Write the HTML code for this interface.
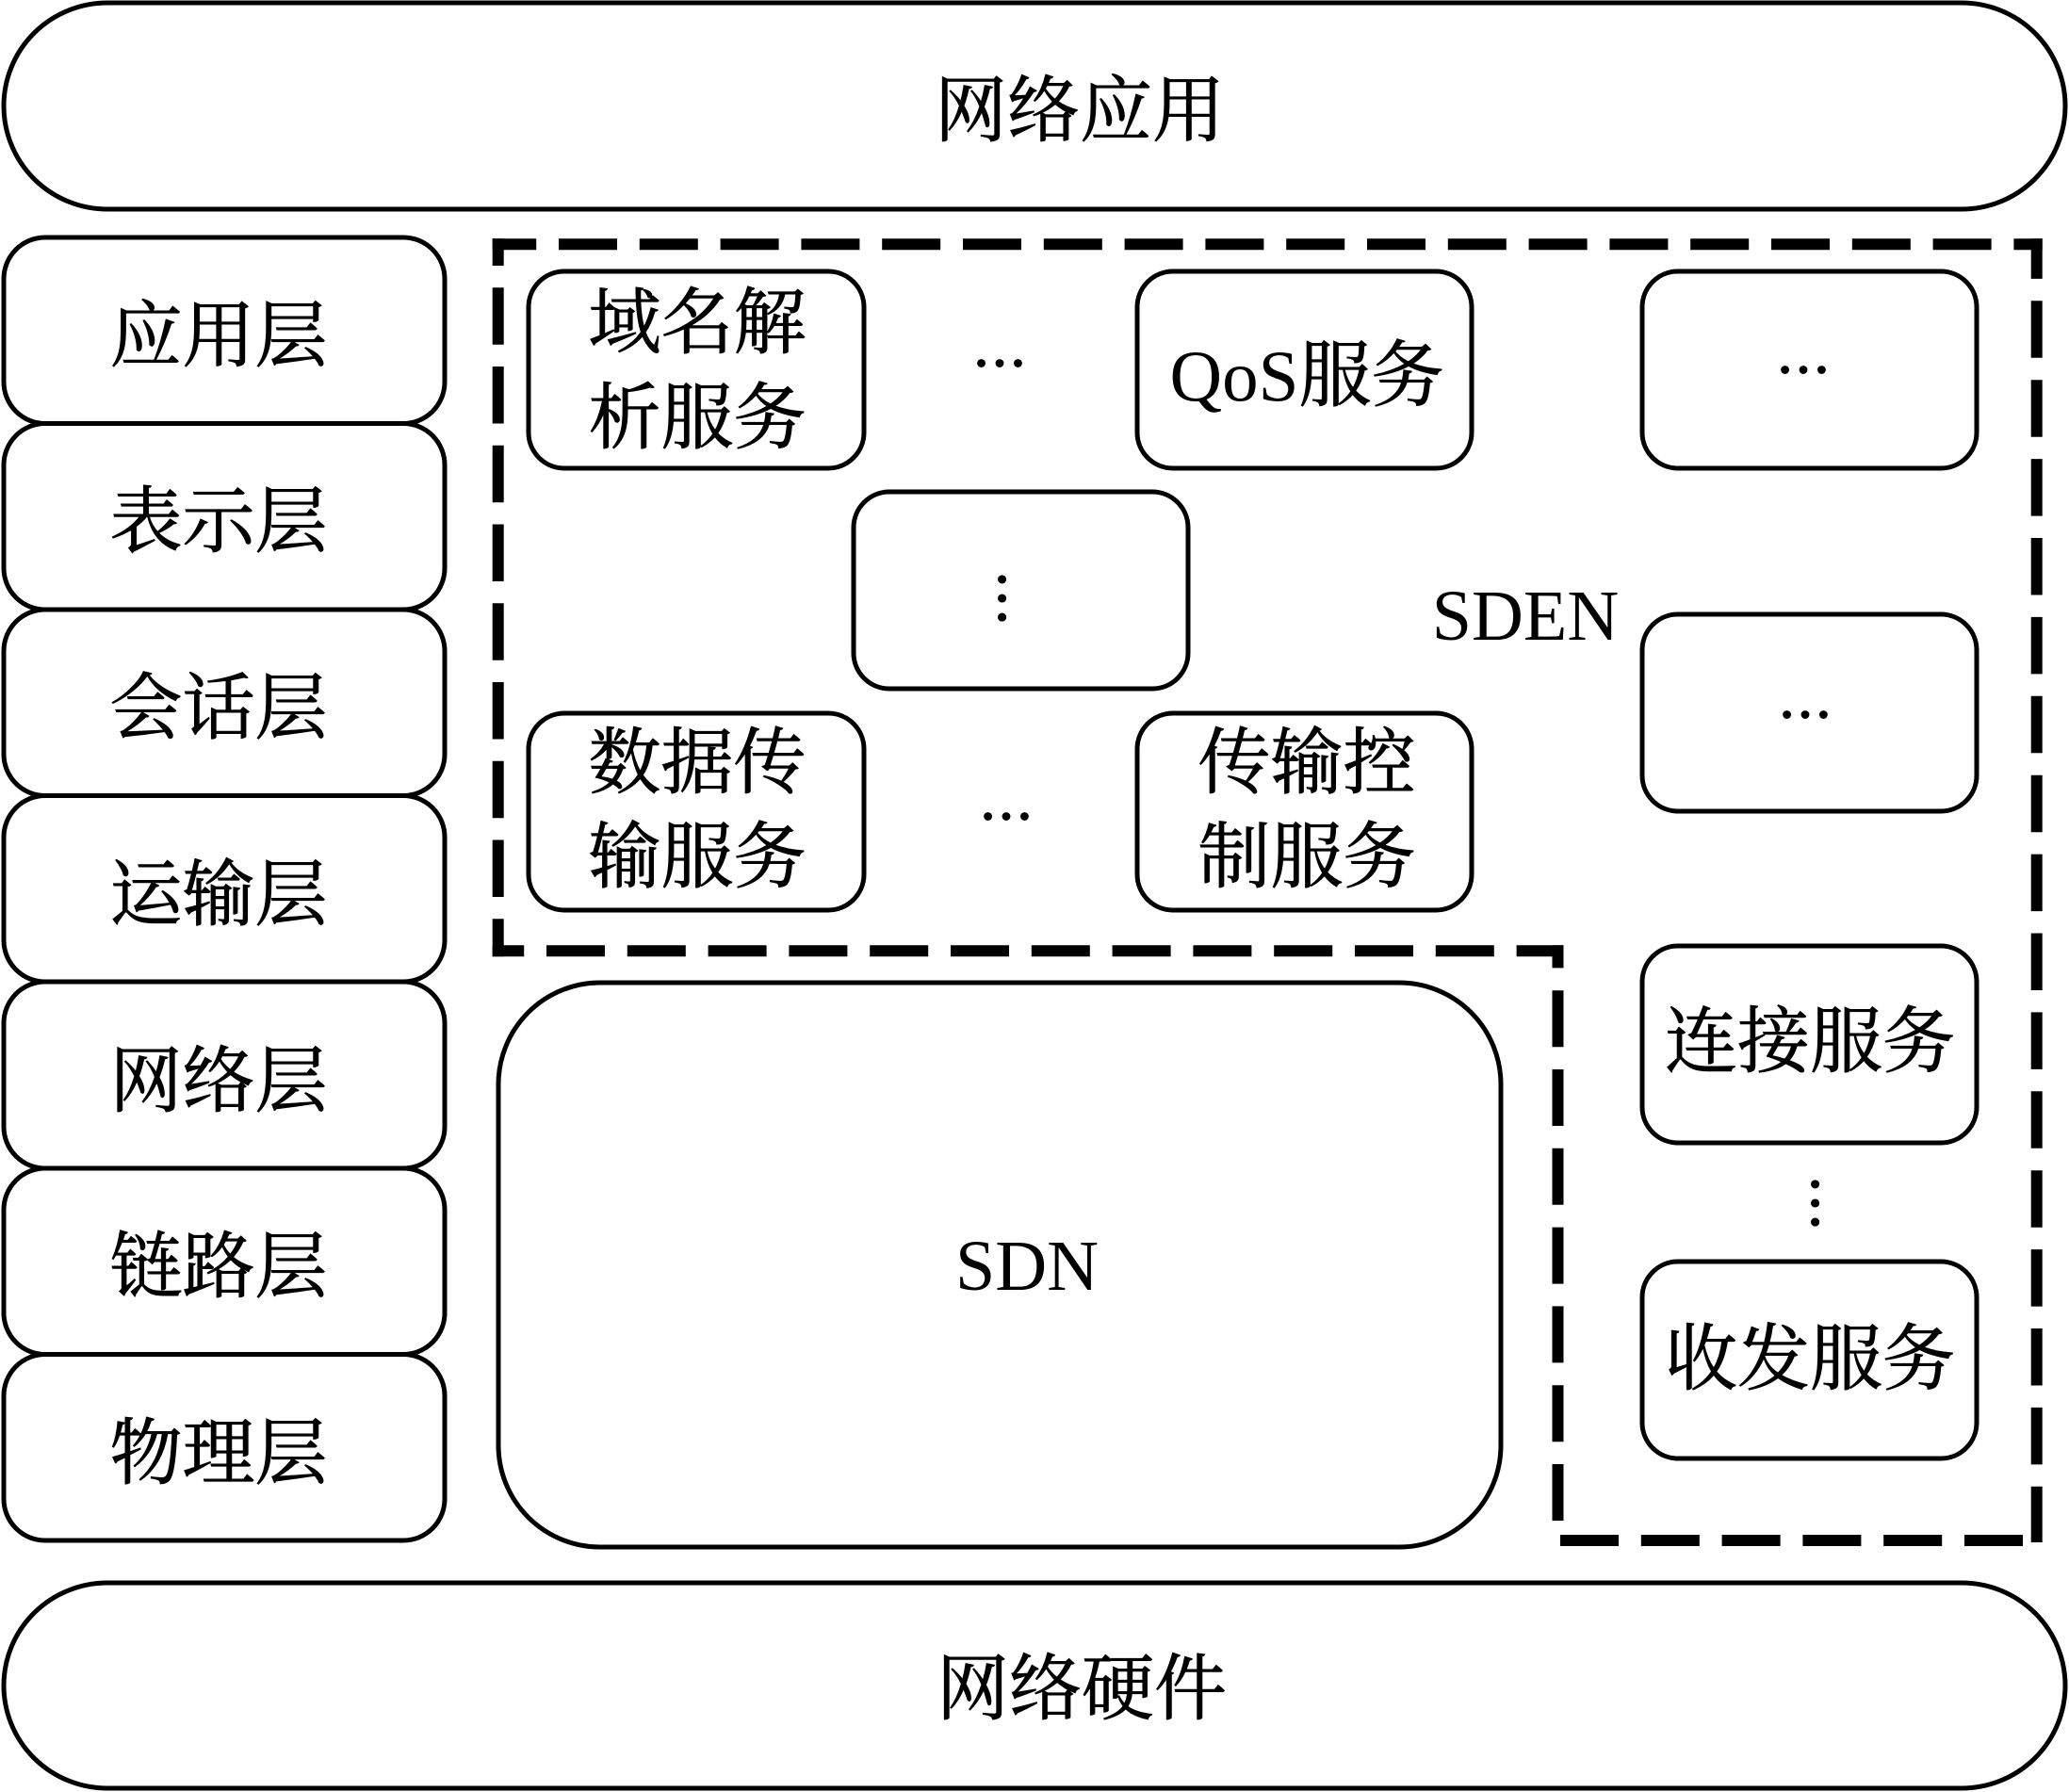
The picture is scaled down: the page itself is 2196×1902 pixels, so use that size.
<!DOCTYPE html>
<html lang="zh"><head><meta charset="utf-8"><title>SDEN</title>
<style>
html,body{margin:0;padding:0;background:#fff}
svg{display:block}
text{font-family:"Liberation Serif","Noto Serif CJK SC",serif;font-size:77px;fill:#000;text-anchor:middle}
.c,tspan.c{stroke:#000;stroke-width:.9}
.l{font-size:76px}
.e{font-size:58px;stroke:#000;stroke-width:2}
.v{font-size:60px;stroke:#000;stroke-width:2}
.b{fill:#fff;stroke:#000;stroke-width:5}
.d{fill:none;stroke:#000;stroke-width:12}
</style></head><body>
<svg width="2196" height="1902" viewBox="0 0 2196 1902" xmlns="http://www.w3.org/2000/svg">
<rect class="b" x="4" y="3" width="2188" height="219" rx="110" ry="110"/>
<rect class="b" x="4" y="1680" width="2188" height="218" rx="110" ry="110"/>
<rect class="b" x="4" y="252" width="468" height="197.5" rx="44" ry="44"/>
<rect class="b" x="4" y="449.5" width="468" height="197.5" rx="44" ry="44"/>
<rect class="b" x="4" y="647" width="468" height="197.5" rx="44" ry="44"/>
<rect class="b" x="4" y="844.5" width="468" height="197.5" rx="44" ry="44"/>
<rect class="b" x="4" y="1042" width="468" height="198" rx="44" ry="44"/>
<rect class="b" x="4" y="1240" width="468" height="197.5" rx="44" ry="44"/>
<rect class="b" x="4" y="1437.5" width="468" height="197.5" rx="44" ry="44"/>

<path class="d" stroke-dasharray="62 23.8" stroke-dashoffset="15.5" d="M522.7 259.3H2167.7"/>
<path class="d" stroke-dasharray="60.5 23.25" stroke-dashoffset="31.75" d="M528.7 253.3V1015.3"/>
<path class="d" stroke-dasharray="62 23.8" stroke-dashoffset="28.5" d="M522.7 1009.3H1659.5"/>
<path class="d" stroke-dasharray="60 23.8" d="M1653.5 1614V1003.3"/>
<path class="d" stroke-dasharray="62 23.8" d="M1656 1635H2148"/>
<path class="d" stroke-dasharray="60.5 23.4" stroke-dashoffset="17.9" d="M2161.7 253.3V1637"/>

<rect class="b" x="561" y="288" width="356" height="209" rx="38" ry="38"/>
<rect class="b" x="1207" y="288" width="355" height="209" rx="38" ry="38"/>
<rect class="b" x="1743" y="288" width="355" height="209" rx="38" ry="38"/>
<rect class="b" x="906" y="522" width="355" height="209" rx="38" ry="38"/>
<rect class="b" x="561" y="757" width="356" height="209" rx="38" ry="38"/>
<rect class="b" x="1207" y="757" width="355" height="209" rx="38" ry="38"/>
<rect class="b" x="1743" y="652" width="355" height="209" rx="38" ry="38"/>
<rect class="b" x="1743" y="1004" width="355" height="209" rx="38" ry="38"/>
<rect class="b" x="1743" y="1339" width="355" height="209" rx="38" ry="38"/>
<rect class="b" x="529" y="1043" width="1064" height="599" rx="108" ry="108"/>

<text class="c" x="1146" y="144">网络应用</text>
<text class="c" x="1148" y="1819">网络硬件</text>
<text class="c" x="232" y="383">应用层</text>
<text class="c" x="232" y="580">表示层</text>
<text class="c" x="232" y="778">会话层</text>
<text class="c" x="232" y="976">运输层</text>
<text class="c" x="232" y="1174">网络层</text>
<text class="c" x="232" y="1371">链路层</text>
<text class="c" x="232" y="1569">物理层</text>
<text class="c" x="740" y="369">域名解</text>
<text class="c" x="740" y="470">析服务</text>
<text x="1387" y="425">QoS<tspan class="c">服务</tspan></text>
<text class="c" x="740" y="836">数据传</text>
<text class="c" x="740" y="936">输服务</text>
<text class="c" x="1387" y="836">传输控</text>
<text class="c" x="1387" y="936">制服务</text>
<text class="c" x="1921" y="1132">连接服务</text>
<text class="c" x="1921" y="1469">收发服务</text>
<text class="l" x="1619" y="679">SDEN</text>
<text class="l" x="1090" y="1369">SDN</text>

<text class="e" x="1061" y="388">…</text>
<text class="e" x="1068" y="869">…</text>
<text class="e" x="1914" y="395">…</text>
<text class="e" x="1916" y="761">…</text>
<text class="v" transform="translate(1061 635) rotate(90)">…</text>
<text class="v" transform="translate(1924 1277) rotate(90)">…</text>
</svg>
</body></html>
